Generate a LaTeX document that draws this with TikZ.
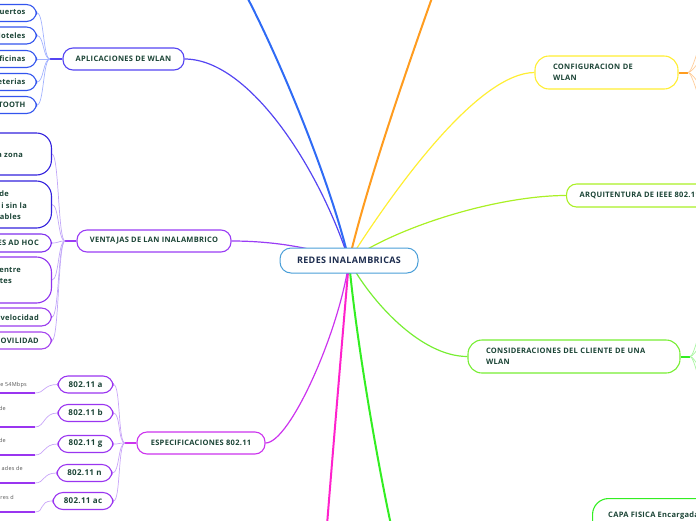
\documentclass[tikz,border=0pt]{standalone}
\usepackage{fontspec}
\setmainfont{Open Sans}[LetterSpace=4.0]
\usetikzlibrary{backgrounds}
\definecolor{txtg}{HTML}{1B4436}
\definecolor{txtc}{HTML}{1C2C4E}
\definecolor{cRedes}{HTML}{4A9FD8}
\definecolor{cApl}{HTML}{5545F2}
\definecolor{cAplK}{HTML}{3355EE}
\definecolor{cAplL}{HTML}{A3B3FF}
\definecolor{cBlue}{HTML}{2F6BF5}
\definecolor{cOrange}{HTML}{FF9C1F}
\definecolor{cOrangeL}{HTML}{FFCB96}
\definecolor{cYellow}{HTML}{FFEE33}
\definecolor{cLime}{HTML}{AAF025}
\definecolor{cGreen}{HTML}{77EE33}
\definecolor{cGreenL}{HTML}{A8F5A0}
\definecolor{cGreen2}{HTML}{33EE22}
\definecolor{cMag}{HTML}{FF22CC}
\definecolor{cSpec}{HTML}{CC33EE}
\definecolor{cSpecK}{HTML}{9A35F0}
\definecolor{cSpecL}{HTML}{C9A6F8}
\definecolor{cVent}{HTML}{9A3CF5}
\definecolor{cVentL}{HTML}{C2A8F8}
\definecolor{cVone}{HTML}{3322DD}
\definecolor{cVthree}{HTML}{8030EE}
\definecolor{cVfour}{HTML}{9033EE}
\definecolor{cVfive}{HTML}{9A3CEE}
\definecolor{cVsix}{HTML}{A544EE}
\definecolor{cFrag}{HTML}{555555}
\tikzset{
 mbox/.style={draw, line width=1.1pt, fill=white, rounded corners=10pt, inner sep=0pt, font=\bfseries\fontsize{7.5}{11}\selectfont, text=txtg},
 lbox/.style={mbox, anchor=east},
 ftxt/.style={inner sep=0pt, font=\bfseries\fontsize{7.5}{9}\selectfont, text=txtg, anchor=east},
 stxt/.style={inner sep=0pt, font=\fontsize{5.5}{6.5}\selectfont, text=cFrag, anchor=east},
 lnTrunk/.style={line width=1.2pt},
 lnFat/.style={line width=2pt},
 lnTwig/.style={line width=0.7pt},
 stubln/.style={line width=2pt},
}
\begin{document}
\begin{tikzpicture}[x=1pt,y=-1pt]
\useasboundingbox (0,0) rectangle (696,520);

% central
\node[mbox, draw=cRedes, line width=1pt, rounded corners=11pt, minimum width=138pt, minimum height=25pt, font=\bfseries\fontsize{9}{11}\selectfont, text=txtc] (redes) at (349,260.5) {REDES INALAMBRICAS};

% aplicaciones
\node[mbox, draw=cApl, minimum width=121pt, minimum height=22pt] (apl) at (123.5,59) {APLICACIONES DE WLAN};
\node[lbox, draw=cAplK, minimum height=17pt, inner xsep=11pt] (a1) at (37,13) {Aeropuertos};
\node[lbox, draw=cAplK, minimum height=17pt, inner xsep=11pt] (a2) at (37,35.5) {Hoteles};
\node[lbox, draw=cAplK, minimum height=17pt, inner xsep=11pt] (a3) at (37,59) {Oficinas};
\node[lbox, draw=cAplK, minimum height=17pt, inner xsep=11pt] (a4) at (37,82) {Cafeterias};
\node[lbox, draw=cAplK, minimum height=17pt, inner xsep=11pt] (a5) at (37,105) {BLUETOOTH};

% ventajas
\node[mbox, draw=cVent, minimum width=154pt, minimum height=22pt] (vent) at (154,241) {VENTAJAS DE LAN INALAMBRICO};
\node[lbox, draw=cVone, minimum width=110pt, minimum height=42pt, rounded corners=15pt] (v1) at (52,154) {};
\node[lbox, draw=cVone, minimum width=110pt, minimum height=47pt, rounded corners=15pt] (v2) at (52,204.5) {};
\node[lbox, draw=cVthree, minimum width=110pt, minimum height=18pt] (v3) at (52,243) {};
\node[lbox, draw=cVfour, minimum width=110pt, minimum height=46pt, rounded corners=15pt] (v4) at (52,280) {};
\node[lbox, draw=cVfive, minimum width=110pt, minimum height=18pt] (v5) at (52,317) {};
\node[lbox, draw=cVsix, minimum width=110pt, minimum height=17pt] (v6) at (52,340.5) {};
\node[ftxt] (v1a) at (23,155) {a zona};
\node[ftxt] (v2a) at (9,194) {de};
\node[ftxt] (v2b) at (27,206) {i sin la};
\node[ftxt] (v2c) at (21,217) {ables};
\node[ftxt] (v3a) at (39,243) {ES AD HOC};
\node[ftxt] (v4a) at (21,270) {entre};
\node[ftxt] (v4b) at (12,281) {tes};
\node[ftxt] (v5a) at (39,318) {velocidad};
\node[ftxt] (v6a) at (39,341) {OVILIDAD};

% especificaciones
\node[mbox, draw=cSpec, minimum width=128pt, minimum height=22pt] (spec) at (201,443) {ESPECIFICACIONES 802.11};
\node[mbox, draw=cSpecK, minimum width=55pt, minimum height=17pt, font=\bfseries\fontsize{8}{10}\selectfont] (s1) at (85.5,384.5) {802.11 a};
\node[mbox, draw=cSpecK, minimum width=55pt, minimum height=17pt, font=\bfseries\fontsize{8}{10}\selectfont] (s2) at (85.5,413) {802.11 b};
\node[mbox, draw=cSpecK, minimum width=55pt, minimum height=17pt, font=\bfseries\fontsize{8}{10}\selectfont] (s3) at (85.5,444) {802.11 g};
\node[mbox, draw=cSpecK, minimum width=55pt, minimum height=17pt, font=\bfseries\fontsize{8}{10}\selectfont] (s4) at (84.5,473) {802.11 n};
\node[mbox, draw=cSpecK, minimum width=60pt, minimum height=17pt, font=\bfseries\fontsize{8}{10}\selectfont] (s5) at (83,501) {802.11 ac};
\coordinate (u1) at (35,393);
\coordinate (u2) at (35,427);
\coordinate (u3) at (35,455);
\coordinate (u4) at (35,483);
\coordinate (u5) at (35,512);
\node[stxt] (t1) at (27,385) {e 54Mbps};
\node[stxt] (t2) at (6,408) {de};
\node[stxt] (t3) at (6,440) {de};
\node[stxt] (t4) at (23,468) {ades de};
\node[stxt] (t5) at (14,497) {res d};

% right side
\node[mbox, draw=cYellow, minimum width=143pt, minimum height=33pt, rounded corners=14pt, align=left, text width=107pt, inner xsep=18pt] (conf) at (606.5,72.5) {CONFIGURACION DE\\WLAN};
\node[mbox, draw=cLime, anchor=west, minimum height=23pt, inner xsep=13pt] (arq) at (566,195.5) {ARQUITENTURA DE IEEE 802.11};
\node[mbox, draw=cGreen, minimum width=212pt, minimum height=33pt, rounded corners=14pt, align=left, text width=176pt, inner xsep=18pt] (cons) at (574,356.5) {CONSIDERACIONES DEL CLIENTE DE UNA\\WLAN};
\node[mbox, draw=cGreen2, anchor=north west, minimum width=150pt, minimum height=45pt, rounded corners=16pt] (capa) at (592,498) {};
\node[ftxt, anchor=west] (capat) at (608,516) {CAPA FISICA Encargada};

\begin{scope}[on background layer]
\coordinate (eBlue) at (246,-5);
\coordinate (eOr) at (433,-5);
\coordinate (eMag) at (327,525);
\coordinate (eGr) at (391,525);
\draw[cBlue, lnFat] (redes.center) .. controls (330,180) and (280,60) .. (eBlue);
\draw[cOrange, lnFat] (redes.center) .. controls (368,180) and (410,60) .. (eOr);
\draw[cYellow, lnTrunk] (redes.center) .. controls (400,180) and (480,73) .. (conf.west);
\draw[cLime, lnTrunk] (redes.center) .. controls (400,225) and (500,195.5) .. (arq.west);
\draw[cGreen, lnTrunk] (redes.center) .. controls (370,300) and (420,356.5) .. (cons.west);
\draw[cGreen2, lnFat] (redes.center) .. controls (355,330) and (375,450) .. (eGr);
\draw[cMag, lnFat] (redes.center) .. controls (343,330) and (333,450) .. (eMag);
\draw[cSpec, lnTrunk] (redes.center) .. controls (340,330) and (290,443) .. (spec.east);
\draw[cVent, lnTrunk] (redes.center) .. controls (320,250) and (280,241) .. (vent.east);
\draw[cApl, lnTrunk] (redes.center) .. controls (320,170) and (250,59) .. (apl.east);

% aplicaciones children
\coordinate (aS) at (50,59);
\draw[cApl, stubln] (apl.west) -- (aS);
\foreach \n in {a1,a2,a3,a4,a5} \draw[cAplL, lnTwig] (aS) .. controls +(-7,0) and +(7,0) .. (\n.east);

% ventajas children
\coordinate (vS) at (65,241);
\draw[cVent, stubln] (vent.west) -- (vS);
\foreach \n in {v1,v2,v3,v4,v5,v6} \draw[cVentL, lnTwig] (vS) .. controls +(-7,0) and +(7,0) .. (\n.east);

% spec children
\coordinate (sS) at (125,443);
\draw[cSpec, stubln] (spec.west) -- (sS);
\foreach \n in {s1,s2,s3,s4,s5} \draw[cSpecL, lnTwig] (sS) .. controls +(-7,0) and +(7,0) .. (\n.east);
\foreach \n/\u in {s1/u1,s2/u2,s3/u3,s4/u4,s5/u5} {
  \draw[cSpecL, lnTwig] (\n.west) .. controls +(-14,0) and +(10,0) .. (\u);
  \draw[cSpecK, line width=1.2pt] (\u) -- ++(-45,0);
}

% configuracion children
\coordinate (cS) at (688,72.5);
\draw[cOrange, stubln] (conf.east) -- (cS);
\coordinate (c1) at (712,15);
\coordinate (c2) at (712,48);
\coordinate (c3) at (712,98);
\coordinate (c4) at (712,130);
\foreach \n in {c1,c2,c3,c4} \draw[cOrangeL, lnTwig] (cS) .. controls +(6,0) and +(-6,0) .. (\n);

% consideraciones children
\coordinate (nS) at (690,356.5);
\draw[cGreen2, stubln] (cons.east) -- (nS);
\coordinate (n1) at (712,295);
\coordinate (n2) at (712,330);
\coordinate (n3) at (712,385);
\coordinate (n4) at (712,418);
\foreach \n in {n1,n2,n3,n4} \draw[cGreenL, lnTwig] (nS) .. controls +(6,0) and +(-6,0) .. (\n);
\end{scope}
\end{tikzpicture}
\end{document}
